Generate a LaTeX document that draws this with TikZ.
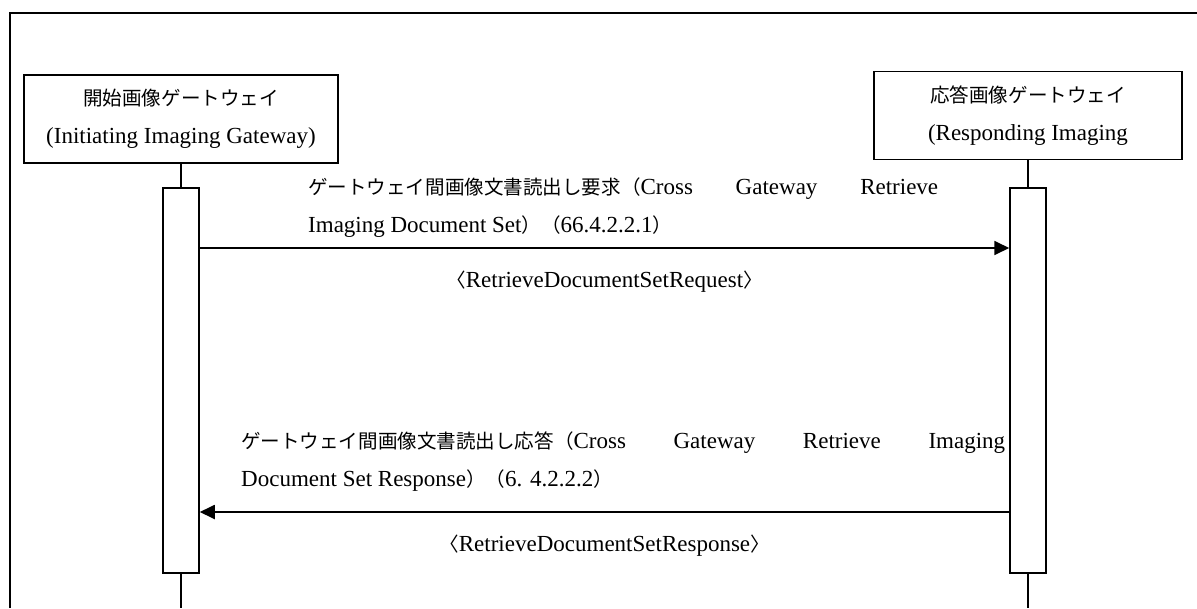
\documentclass[tikz,border=0pt]{standalone}
\usepackage{fontspec}
\setmainfont{Liberation Serif}
\newfontfamily\jp[Scale=0.85]{Noto Sans CJK JP}
\usetikzlibrary{arrows.meta}

\begin{document}
\begin{tikzpicture}[
x=1pt, y=-1pt,
font=\fontsize{23}{38}\selectfont,
gwbox/.style={draw, line width=1.5pt, minimum width=#1, minimum height=88pt, align=center, inner sep=0pt},
actbox/.style={draw, line width=1.5pt, fill=white, minimum width=36pt, minimum height=385pt, inner sep=0pt},
life/.style={line width=1.3pt},
msg/.style={-{Triangle[length=15pt,width=14pt]}, line width=1.8pt},
txt/.style={anchor=west, align=left, inner sep=0pt},
lbl/.style={inner sep=0pt}
]
\useasboundingbox (0,0) rectangle (1197,608);
\draw[line width=2pt] (10,608) -- (10,13) -- (1197,13);

\node[gwbox=314pt] (initgw) at (181,119) {{\jp 開始画像ゲートウェイ}\\(Initiating Imaging Gateway)};
\node[gwbox=308pt] (respgw) at (1028,115.5) {{\jp 応答画像ゲートウェイ}\\(Responding Imaging};

\node[actbox] (initact) at (181,380.5) {};
\node[actbox] (respact) at (1028,380.5) {};
\coordinate (initend) at (181,608);
\coordinate (respend) at (1028,608);
\draw[life] (initgw) -- (initact);
\draw[life] (initact) -- (initend);
\draw[life] (respgw) -- (respact);
\draw[life] (respact) -- (respend);

\coordinate (req) at (0,248);
\coordinate (resp) at (0,512);
\draw[msg] (initact.east |- req) -- node[lbl, below=22pt] {{\jp 〈}RetrieveDocumentSetRequest{\jp 〉}} (respact.west |- req);
\draw[msg] (respact.west |- resp) -- node[lbl, below=22pt] {{\jp 〈}RetrieveDocumentSetResponse{\jp 〉}} (initact.east |- resp);

\node[txt] (reqtxt) at (308,208) {\makebox[630pt][s]{{\jp ゲートウェイ間画像文書読出し要求（}Cross Gateway Retrieve}\\Imaging Document Set{\jp ）（}66.4.2.2.1{\jp ）}};
\node[txt] (resptxt) at (241,462) {\makebox[764pt][s]{{\jp ゲートウェイ間画像文書読出し応答（}Cross Gateway Retrieve Imaging}\\Document Set Response{\jp ）（}6. 4.2.2.2{\jp ）}};
\end{tikzpicture}
\end{document}
